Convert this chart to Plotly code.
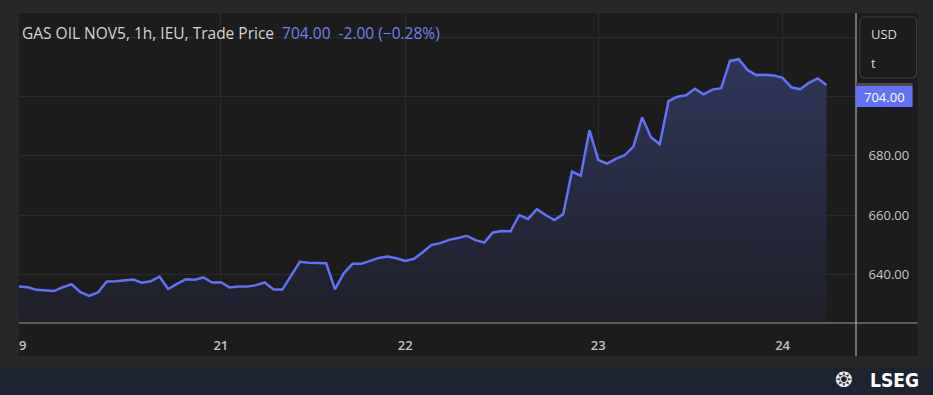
import plotly.graph_objects as go

# ---------------- data ----------------
prices = [
    635.8, 635.6, 634.7, 634.4, 634.3, 635.6, 636.6, 633.9, 632.7, 633.8,
    637.5, 637.6, 637.8, 638.2, 637.1, 637.6, 639.2, 635.0, 636.7, 638.3,
    638.1, 638.9, 637.2, 637.3, 635.5, 635.8, 635.8, 636.3, 637.2, 634.8,
    634.8, 639.6, 644.2, 643.9, 643.7, 643.7, 634.9, 640.3, 643.5, 643.5,
    644.5, 645.5, 646.0, 645.4, 644.5, 645.2, 647.4, 649.9, 650.5, 651.6,
    652.2, 653.0, 651.5, 650.7, 654.1, 654.6, 654.5, 660.0, 658.7, 662.0,
    660.0, 658.3, 660.3, 674.7, 673.3, 688.7, 678.6, 677.4, 679.0, 680.2,
    683.1, 693.0, 686.3, 683.9, 698.5, 700.0, 700.5, 702.7, 700.8, 702.4,
    702.9, 712.1, 712.7, 709.0, 707.3, 707.4, 707.2, 706.4, 703.2, 702.5,
    704.7, 706.2, 704.0,
]
bar_index = list(range(len(prices)))

day_tick_bars = [0, 23, 44, 66, 87]
day_tick_labels = ["19", "21", "22", "23", "24"]

# gridlines at every 20; the 700/720 labels sit under the price tag / unit box
price_ticks = [640, 660, 680, 700, 720]
price_tick_labels = ["640.00", "660.00", "680.00", "", ""]

title_text = "GAS OIL NOV5, 1h, IEU, Trade Price"
last_change = "-2.00 (\u22120.28%)"
unit_lines = ["USD", "t"]

# ---------------- layout geometry (pixels) ----------------
W, H = 933, 395
L, R, T, B = 13, 856, 13, 323  # plot area


def px(xp):
    return (xp - L) / (R - L)


def py(yp):
    return (B - yp) / (B - T)


LINE = "#6272f6"
PANEL = "#1c1c1c"
FRAME = "#272727"
GRID = "#2b2b2b"

fig = go.Figure()
fig.add_trace(go.Scatter(
    x=bar_index, y=prices, mode="lines",
    line=dict(color=LINE, width=2.5),
    fill="tozeroy",
    fillgradient=dict(type="vertical",
                      colorscale=[[0, "#1e1f28"], [1, "#30365a"]],
                      start=623.5, stop=713),
    hoverinfo="skip",
))


def P(xp, yp):
    return f"{px(xp):.5f},{py(yp):.5f}"


x0b, x1b, y0b, y1b, r = 860, 917, 17, 78, 5
box_path = (f"M {P(x0b + r, y0b)} L {P(x1b - r, y0b)} Q {P(x1b, y0b)} {P(x1b, y0b + r)} "
            f"L {P(x1b, y1b - r)} Q {P(x1b, y1b)} {P(x1b - r, y1b)} "
            f"L {P(x0b + r, y1b)} Q {P(x0b, y1b)} {P(x0b, y1b - r)} "
            f"L {P(x0b, y0b + r)} Q {P(x0b, y0b)} {P(x0b + r, y0b)} Z")

shapes = [
    # chart panel
    dict(type="rect", xref="paper", yref="paper", layer="below",
         x0=px(13), x1=px(918), y0=py(356), y1=py(13),
         fillcolor=PANEL, line=dict(width=0)),
    # bottom navy band
    dict(type="rect", xref="paper", yref="paper", layer="below",
         x0=px(-20), x1=px(950), y0=py(400), y1=py(368),
         fillcolor="#1e2330", line=dict(width=0)),
    # clip region on the left of the plot (covers overflowing tick text)
    dict(type="rect", xref="paper", yref="paper", layer="above",
         x0=px(-20), x1=px(13), y0=py(362), y1=py(-5),
         fillcolor=FRAME, line=dict(width=0)),
    # bottom axis line
    dict(type="line", xref="paper", yref="paper", layer="above",
         x0=px(13), x1=px(918), y0=py(323), y1=py(323),
         line=dict(color="#9a9a9a", width=1.2)),
    # right separator
    dict(type="line", xref="paper", yref="paper", layer="above",
         x0=px(856), x1=px(856), y0=py(356), y1=py(13),
         line=dict(color="#c8c8c8", width=1)),
    # unit box
    dict(type="path", xref="paper", yref="paper", layer="above",
         path=box_path, fillcolor=PANEL, line=dict(color="#3c3c3c", width=1.2)),
    # grey strip above price tag
    dict(type="rect", xref="paper", yref="paper", layer="above",
         x0=px(856), x1=px(913), y0=py(86), y1=py(83),
         fillcolor="#4a4a4a", line=dict(width=0)),
    # price tag
    dict(type="rect", xref="paper", yref="paper", layer="above",
         x0=px(856), x1=px(913), y0=py(107), y1=py(86),
         fillcolor="#6272f6", line=dict(width=0)),
]

annotations = [
    dict(xref="paper", yref="paper", x=px(14), y=py(33), xanchor="left", yanchor="middle",
         showarrow=False, align="left",
         text=(f"{title_text}\u00a0\u00a0<span style='color:#7282f2'>{prices[-1]:.2f}"
               f"\u00a0\u00a0{last_change}</span>"),
         font=dict(family="Open Sans", size=15.5, color="#d4d4d4")),
    dict(xref="paper", yref="paper", x=px(869), y=py(34), xanchor="left", yanchor="middle",
         showarrow=False, text=unit_lines[0],
         font=dict(family="Open Sans", size=13, color="#d6d6d6")),
    dict(xref="paper", yref="paper", x=px(869), y=py(63), xanchor="left", yanchor="middle",
         showarrow=False, text=unit_lines[1],
         font=dict(family="Open Sans", size=13, color="#d6d6d6")),
    dict(xref="paper", yref="paper", x=px(885), y=py(97), xanchor="center", yanchor="middle",
         showarrow=False, text=f"{prices[-1]:.2f}",
         font=dict(family="Open Sans", size=13, color="#ffffff")),
    dict(xref="paper", yref="paper", x=px(921), y=py(380), xanchor="right", yanchor="middle",
         showarrow=False, text="<b>LSEG</b>",
         font=dict(family="DejaVu Sans Condensed", size=19, color="#ffffff")),
    dict(xref="paper", yref="paper", x=px(844), y=py(380), xanchor="center", yanchor="middle",
         showarrow=False, text="<b>\u2742</b>",
         font=dict(family="DejaVu Sans", size=21, color="#f0f0f0")),
]

fig.update_layout(
    width=W, height=H,
    margin=dict(l=L, r=W - R, t=T, b=H - B, pad=0),
    paper_bgcolor=FRAME,
    plot_bgcolor=PANEL,
    showlegend=False,
    shapes=shapes,
    annotations=annotations,
    xaxis=dict(
        range=[0, (R - L) / 8.84], tickmode="array",
        tickvals=day_tick_bars, ticktext=day_tick_labels,
        showgrid=True, gridcolor=GRID, gridwidth=1,
        zeroline=False, showline=False,
        ticks="outside", ticklen=10, tickcolor="rgba(0,0,0,0)",
        tickfont=dict(family="Open Sans", size=13, color="#c4c4c4", weight=600),
        fixedrange=True,
    ),
    yaxis=dict(
        side="right", range=[623.5, 728.3], tickmode="array",
        tickvals=price_ticks, ticktext=price_tick_labels,
        showgrid=True, gridcolor=GRID, gridwidth=1,
        zeroline=False, showline=False,
        ticks="outside", ticklen=9, tickcolor="rgba(0,0,0,0)",
        tickfont=dict(family="Open Sans", size=13, color="#c8c8c8"),
        fixedrange=True,
    ),
)

fig.write_html("out.html", config={"displayModeBar": False})
